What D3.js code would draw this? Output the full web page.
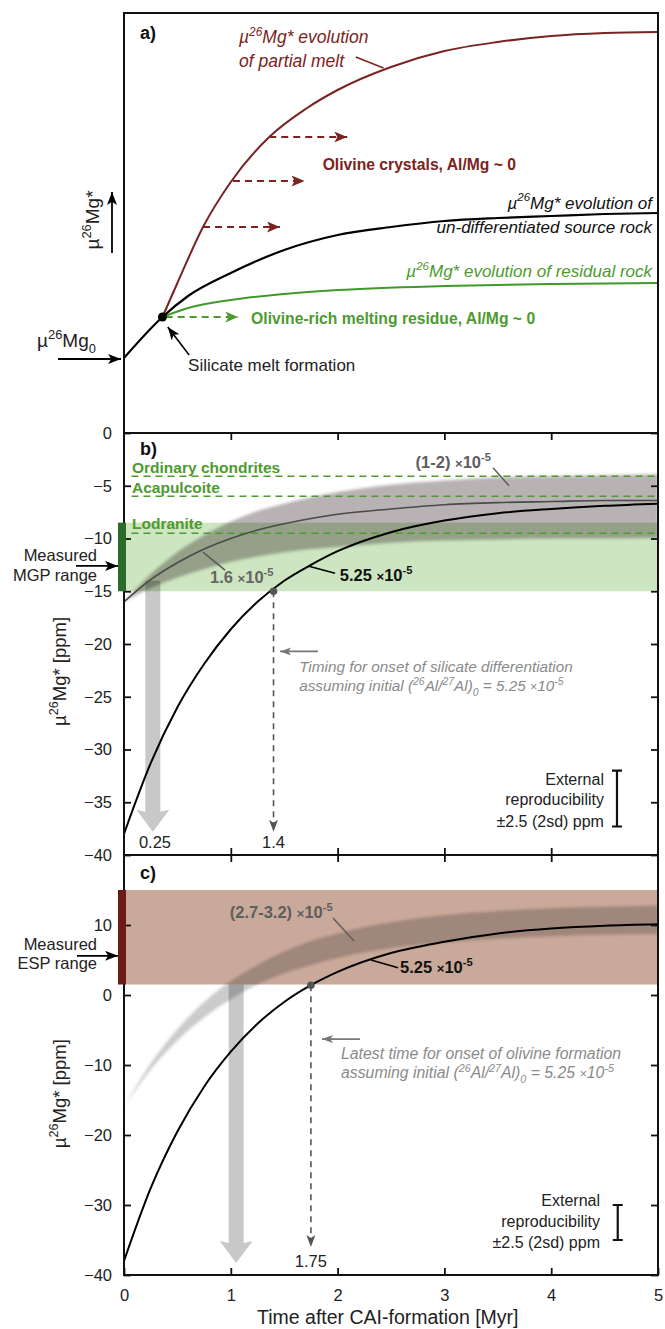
<!DOCTYPE html>
<html>
<head>
<meta charset="utf-8">
<script src="https://d3js.org/d3.v7.min.js"></script>
<style>
  body { margin:0; background:#fff; }
  svg { display:block; font-family: "Liberation Sans", Arial, sans-serif; }
</style>
</head>
<body>
<script>
var width = 665, height = 1329;

// ---- data ----
// panel a: schematic, arbitrary units
var aSourceT = [0, 0.36, 0.6, 1, 1.5, 2, 2.5, 3, 3.5, 4, 4.5, 5];
var aSource  = [7.5, 11.6, 13.7, 16.0, 18.3, 19.8, 20.6, 21.2, 21.5, 21.7, 21.9, 22.0];
var aMeltT   = [0.36, 0.5, 0.74, 1.0, 1.36, 1.7, 2.0, 2.5, 3.0, 3.5, 4.0, 4.5, 5.0];
var aMelt    = [11.6, 15.0, 20.6, 25.1, 29.6, 32.4, 34.3, 36.6, 38.2, 39.1, 39.7, 40.0, 40.1];
var aResT    = [0.36, 0.6, 1.0, 1.5, 2.0, 3.0, 4.0, 5.0];
var aRes     = [11.6, 12.5, 13.3, 13.9, 14.3, 14.7, 14.9, 15.0];
var meltFormation = [0.36, 11.6];
var crystalStart = [0.74, 1.02, 1.36], crystalEnd = [1.46, 1.69, 2.09], crystalLevel = [20.6, 25.2, 29.6];

// panels b and c: mu26Mg* in ppm vs time (Myr)
var tGrid = [0, 0.25, 0.5, 0.75, 1, 1.25, 1.5, 1.75, 2, 2.5, 3, 3.5, 4, 4.5, 5];
var b525  = [-38, -31.3, -26.0, -21.9, -18.6, -16.0, -14.0, -12.5, -11.2, -9.4, -8.3, -7.6, -7.2, -6.9, -6.7];
var b16   = [-16, -13.9, -12.3, -11.0, -10.0, -9.2, -8.6, -8.1, -7.7, -7.2, -6.8, -6.6, -6.5, -6.4, -6.4];
var bHi   = [-16, -13.4, -11.3, -9.7, -8.4, -7.4, -6.7, -6.1, -5.6, -4.9, -4.5, -4.2, -4.1, -4.0, -3.9];
var bLo   = [-16, -14.7, -13.7, -12.9, -12.2, -11.7, -11.3, -11.0, -10.8, -10.4, -10.2, -10.1, -10.0, -10.0, -9.95];
var c525  = [-38, -27.6, -19.5, -13.1, -8.1, -4.1, -1.0, 1.4, 3.3, 6.0, 7.6, 8.8, 9.5, 9.9, 10.1];
var cHi   = [-16, -9.8, -4.9, -1.0, 2.0, 4.3, 6.2, 7.7, 8.8, 10.4, 11.4, 12.0, 12.4, 12.6, 12.8];
var cLo   = [-16, -10.65, -6.5, -3.2, -0.6, 1.5, 3.1, 4.3, 5.3, 6.7, 7.5, 8.05, 8.4, 8.6, 8.7];

var refLevels = [-4.1, -6.0, -9.5];
var refNames  = ["Ordinary chondrites", "Acapulcoite", "Lodranite"];
var refLabelAt = [-3.8, -5.7, -9.1];
var mgpRange = [-15, -8.5], espRange = [1.5, 15];
var onsetB = [1.4, -15], onsetC = [1.75, 1.4];
var arrowB = 0.27, arrowC = 1.05;

var bTicks = d3.range(-40, 1, 5), cTicks = d3.range(-40, 11, 10), xTicks = [0, 1, 2, 3, 4, 5];

// ---- colours ----
var cMelt = "#7a2320", cGreen = "#4c9b2f", cGreenDark = "#2d6b2c", cGreenFill = "#cde5c0",
    cBrown = "#c9a99a", cBrownDark = "#6b1a16", cNote = "#8a8a8a", cBandText = "#5e5e5e";

// ---- scales ----
var x  = d3.scaleLinear().domain([0, 5]).range([124, 658]);
var yA = d3.scaleLinear().domain([0, 42]).range([433, 13]);
var yB = d3.scaleLinear().domain([-40, 0]).range([855, 433]);
var yC = d3.scaleLinear().domain([-40, 20]).range([1275, 855]);

var svg = d3.select("body").append("svg").attr("width", width).attr("height", height);
var defs = svg.append("defs");

defs.append("filter").attr("id", "soft")
  .attr("x", "-5%").attr("y", "-30%").attr("width", "110%").attr("height", "160%")
  .append("feGaussianBlur").attr("stdDeviation", 1.8);

function marker(id, color, l, w) {
  defs.append("marker").attr("id", id)
    .attr("viewBox", "0 0 " + l + " " + w)
    .attr("refX", l).attr("refY", w / 2)
    .attr("markerWidth", l).attr("markerHeight", w)
    .attr("markerUnits", "userSpaceOnUse")
    .attr("orient", "auto")
    .append("path")
    .attr("d", "M0,0L" + l + "," + (w / 2) + "L0," + w + "L" + (l * 0.25) + "," + (w / 2) + "Z")
    .attr("fill", color);
}
marker("headRed", cMelt, 13, 11);
marker("headGreen", cGreen, 13, 11);
marker("headBlack", "#000", 13, 10);
marker("headGrey", "#555", 12, 9);
marker("headNote", "#777", 11, 8);

// rich text: parts = [[text, mode]], mode sup/sub/small
function rich(sel, parts, size) {
  var shift = 0;
  parts.forEach(function(p) {
    var mode = p[1] || "";
    var target = mode === "sup" ? -0.42 * size : mode === "sub" ? 0.3 * size : 0;
    var ts = sel.append("tspan").text(p[0]);
    if (target !== shift) { ts.attr("dy", target - shift); shift = target; }
    if (mode) ts.attr("font-size", (mode === "small" ? 0.8 : 0.68) * size);
  });
}

function label(g, px, py, parts, o) {
  o = o || {};
  var size = o.size || 15;
  var t = g.append("text").attr("x", px).attr("y", py)
    .attr("font-size", size)
    .attr("fill", o.fill || "#222")
    .attr("text-anchor", o.anchor || "start")
    .attr("font-weight", o.bold ? "bold" : null)
    .attr("font-style", o.italic ? "italic" : null);
  if (o.rotate) t.attr("transform", "rotate(-90," + px + "," + py + ")");
  if (typeof parts === "string") parts = [[parts]];
  rich(t, parts, size);
  return t;
}

function arrow(g, x1, y1, x2, y2, color, head, o) {
  o = o || {};
  return g.append("line").attr("x1", x1).attr("y1", y1).attr("x2", x2).attr("y2", y2)
    .attr("stroke", color).attr("stroke-width", o.width || 1.6)
    .attr("stroke-dasharray", o.dash || null)
    .attr("marker-end", head ? "url(#" + head + ")" : null);
}

function seg(g, x1, y1, x2, y2, color) {
  g.append("line").attr("x1", x1).attr("y1", y1).attr("x2", x2).attr("y2", y2)
    .attr("stroke", color).attr("stroke-width", 1.5);
}

function clipFor(id, y) {
  defs.append("clipPath").attr("id", id).append("rect")
    .attr("x", x(0)).attr("y", y.range()[1]).attr("width", x(5) - x(0))
    .attr("height", y.range()[0] - y.range()[1]);
  return svg.append("g").attr("clip-path", "url(#" + id + ")");
}

function bigArrow(g, t, v0, v1, y) {
  var cx = x(t), top = y(v0), tip = y(v1), sw = 7.5, hw = 16.5, hl = 20;
  g.append("path")
    .attr("d", "M" + (cx - sw) + "," + top + "L" + (cx + sw) + "," + top +
      "L" + (cx + sw) + "," + (tip - hl) + "L" + (cx + hw) + "," + (tip - hl - 2) +
      "L" + cx + "," + tip + "L" + (cx - hw) + "," + (tip - hl - 2) +
      "L" + (cx - sw) + "," + (tip - hl) + "Z")
    .attr("fill", "#c8c8c8");
}

function errBar(g, cx, y0, y1) {
  g.append("path").attr("d", "M" + (cx - 5) + "," + y0 + "H" + (cx + 5) + "M" + cx + "," + y0 +
    "V" + y1 + "M" + (cx - 5) + "," + y1 + "H" + (cx + 5))
    .attr("stroke", "#111").attr("stroke-width", 2.2).attr("fill", "none");
}

function xy(ts, vs, y) { return ts.map(function(t, i) { return [x(t), y(vs[i])]; }); }
var line = d3.line().curve(d3.curveMonotoneX);

function frame(y, tickVals, opts) {
  var g = svg.append("g");
  var top = y.range()[1], bot = y.range()[0];
  if (tickVals) {
    g.append("g").attr("transform", "translate(" + x(0) + ",0)")
      .call(d3.axisLeft(y).tickValues(tickVals).tickSize(-7).tickPadding(12).tickFormat(d3.format("")))
      .call(styleAxis);
    g.append("g").attr("transform", "translate(" + x(5) + ",0)")
      .call(d3.axisRight(y).tickValues(tickVals).tickSize(-7).tickFormat(""))
      .call(styleAxis);
  }
  if (opts.xTop) g.append("g").attr("transform", "translate(0," + top + ")")
      .call(d3.axisTop(x).tickValues([1, 2, 3, 4]).tickSize(-7).tickFormat("")).call(styleAxis);
  if (opts.xBottom) g.append("g").attr("transform", "translate(0," + bot + ")")
      .call(d3.axisBottom(x).tickValues(opts.xLabels ? xTicks : [1, 2, 3, 4]).tickSize(-7).tickPadding(14)
        .tickFormat(opts.xLabels ? d3.format("") : "")).call(styleAxis);
  g.append("rect").attr("x", x(0)).attr("y", top).attr("width", x(5) - x(0)).attr("height", bot - top)
    .attr("fill", "none").attr("stroke", "#111").attr("stroke-width", 2);
  return g;
}
function styleAxis(a) {
  a.select(".domain").remove();
  a.selectAll(".tick line").attr("stroke", "#111").attr("stroke-width", 1.8);
  a.selectAll(".tick text").attr("font-size", 16.5).attr("fill", "#222").attr("font-family", "Liberation Sans, Arial, sans-serif");
}

// ================= panel a =================
var pa = clipFor("clipA", yA);
pa.append("path").attr("d", line(xy(aResT, aRes, yA))).attr("fill", "none").attr("stroke", "#3f9a2b").attr("stroke-width", 2);
pa.append("path").attr("d", line(xy(aMeltT, aMelt, yA))).attr("fill", "none").attr("stroke", cMelt).attr("stroke-width", 2);
pa.append("path").attr("d", line(xy(aSourceT, aSource, yA))).attr("fill", "none").attr("stroke", "#000").attr("stroke-width", 2.2);
crystalLevel.forEach(function(v, i) {
  arrow(pa, x(crystalStart[i]), yA(v), x(crystalEnd[i]), yA(v), cMelt, "headRed", {dash: "7,5", width: 2});
});
arrow(pa, x(meltFormation[0] + 0.03), yA(meltFormation[1]), x(1.07), yA(meltFormation[1]), cGreen, "headGreen", {dash: "7,5", width: 2});
pa.append("circle").attr("cx", x(meltFormation[0])).attr("cy", yA(meltFormation[1])).attr("r", 4.5).attr("fill", "#000");
frame(yA, null, {});

var ta = svg.append("g");
label(ta, x(0.15), yA(39.4), "a)", {bold: true, size: 18, fill: "#111"});
label(ta, x(1.077), yA(39), [["\u00b5"], ["26", "sup"], ["Mg* evolution"]], {italic: true, size: 17.5, fill: cMelt});
label(ta, x(1.077), yA(36.6), "of partial melt", {italic: true, size: 17.5, fill: cMelt});
seg(ta, x(2.17), yA(37.6), x(2.43), yA(36.5), cMelt);
label(ta, x(1.86), yA(26.3), "Olivine crystals, Al/Mg ~ 0", {bold: true, size: 15.7, fill: cMelt});
label(ta, x(4.944), yA(22.45), [["\u00b5"], ["26", "sup"], ["Mg* evolution of"]], {italic: true, size: 17, fill: "#111", anchor: "end"});
label(ta, x(4.944), yA(20), "un-differentiated source rock", {italic: true, size: 17, fill: "#111", anchor: "end"});
label(ta, x(4.944), yA(15.6), [["\u00b5"], ["26", "sup"], ["Mg* evolution of residual rock"]], {italic: true, size: 17, fill: cGreen, anchor: "end"});
label(ta, x(1.19), yA(10.9), "Olivine-rich melting residue, Al/Mg ~ 0", {bold: true, size: 15.7, fill: cGreen});
label(ta, x(0.6), yA(6.2), "Silicate melt formation", {size: 17, fill: "#222"});
arrow(ta, x(0.61), yA(7.8), x(0.41), yA(10.6), "#000", "headBlack", {width: 1.6});
label(ta, 37, yA(8.6), [["\u00b5"], ["26", "sup"], ["Mg"], ["0", "sub"]], {size: 19, fill: "#222"});
arrow(ta, 58, yA(7.4), 121, yA(7.4), "#000", "headBlack", {width: 1.8});
label(ta, 99, yA(21.3), [["\u00b5"], ["26", "sup"], ["Mg*"]], {size: 19, fill: "#222", rotate: true, anchor: "middle"});
arrow(ta, 112, yA(18), 112, yA(24.1), "#000", "headBlack", {width: 1.8});

// ================= panel b =================
var pb = clipFor("clipB", yB);
bigArrow(pb, arrowB, -14, -37.8, yB);
pb.append("path").datum(tGrid)
  .attr("d", d3.area().curve(d3.curveMonotoneX)
    .x(function(t) { return x(t); })
    .y0(function(t, i) { return yB(bLo[i]); })
    .y1(function(t, i) { return yB(bHi[i]); }))
  .attr("fill", "#b8b2b5").attr("filter", "url(#soft)").style("mix-blend-mode", "multiply");
pb.append("rect").attr("x", x(0)).attr("y", yB(mgpRange[1])).attr("width", x(5) - x(0))
  .attr("height", yB(mgpRange[0]) - yB(mgpRange[1])).attr("fill", cGreenFill).style("mix-blend-mode", "multiply");
refLevels.forEach(function(v) {
  pb.append("line").attr("x1", x(0.07)).attr("x2", x(5)).attr("y1", yB(v)).attr("y2", yB(v))
    .attr("stroke", cGreen).attr("stroke-width", 1.6).attr("stroke-dasharray", "7,5");
});
pb.append("path").attr("d", line(xy(tGrid, b16, yB))).attr("fill", "none").attr("stroke", "#4a4a4a").attr("stroke-width", 1.6);
pb.append("path").attr("d", line(xy(tGrid, b525, yB))).attr("fill", "none").attr("stroke", "#000").attr("stroke-width", 2);
arrow(pb, x(onsetB[0]), yB(onsetB[1]), x(onsetB[0]), yB(-37.8), "#555", "headGrey", {dash: "6,5", width: 1.6});
pb.append("circle").attr("cx", x(onsetB[0])).attr("cy", yB(onsetB[1])).attr("r", 3.8).attr("fill", "#555");
frame(yB, bTicks, {xTop: true, xBottom: true});
svg.append("rect").attr("x", 118).attr("y", yB(mgpRange[1])).attr("width", 8)
  .attr("height", yB(mgpRange[0]) - yB(mgpRange[1])).attr("fill", cGreenDark);

var tb = svg.append("g");
label(tb, x(0.15), yB(-2.1), "b)", {bold: true, size: 18, fill: "#111"});
refNames.forEach(function(n, i) {
  label(tb, x(0.075), yB(refLabelAt[i]), n, {bold: true, size: 15.5, fill: cGreen});
});
label(tb, x(2.73), yB(-3.3), [["(1-2) "], ["\u00d7", "small"], ["10"], ["-5", "sup"]], {bold: true, size: 16.5, fill: cBandText});
seg(tb, x(3.455), yB(-3.3), x(3.605), yB(-5.0), cBandText);
label(tb, x(0.805), yB(-14.2), [["1.6 "], ["\u00d7", "small"], ["10"], ["-5", "sup"]], {bold: true, size: 16.5, fill: "#666"});
seg(tb, x(0.74), yB(-11.3), x(0.946), yB(-13.0), "#555");
label(tb, x(2.02), yB(-14.0), [["5.25 "], ["\u00d7", "small"], ["10"], ["-5", "sup"]], {bold: true, size: 16.5, fill: "#111"});
seg(tb, x(1.723), yB(-12.6), x(1.976), yB(-13.3), "#000");
label(tb, 97, yB(-12.15), "Measured", {size: 16.5, anchor: "end"});
label(tb, 97, yB(-14.05), "MGP range", {size: 16.5, anchor: "end"});
arrow(tb, 76, yB(-12.6), 118, yB(-12.6), "#000", "headBlack", {width: 1.8});
arrow(tb, x(1.816), yB(-20.7), x(1.461), yB(-20.7), "#777", "headNote", {width: 1.8});
label(tb, x(1.64), yB(-22.7), "Timing for onset of silicate differentiation", {italic: true, size: 15.3, fill: cNote});
label(tb, x(1.64), yB(-24.5), [["assuming initial ("], ["26", "sup"], ["Al/"], ["27", "sup"], ["Al)"], ["0", "sub"], [" = 5.25 "], ["\u00d7", "small"], ["10"], ["-5", "sup"]], {italic: true, size: 15.3, fill: cNote});
label(tb, x(0.29), yB(-39.3), "0.25", {size: 16.5, anchor: "middle"});
label(tb, x(1.4), yB(-39.3), "1.4", {size: 16.5, anchor: "middle"});
label(tb, x(4.494), yB(-33.4), "External", {size: 16, anchor: "end"});
label(tb, x(4.494), yB(-35.3), "reproducibility", {size: 16, anchor: "end"});
label(tb, x(4.494), yB(-37.3), "\u00b12.5 (2sd) ppm", {size: 16, anchor: "end"});
errBar(tb, x(4.616), yB(-32), yB(-37.3));
label(tb, 66, yB(-22.6), [["\u00b5"], ["26", "sup"], ["Mg* [ppm]"]], {size: 18.5, rotate: true, anchor: "middle"});

// ================= panel c =================
var pc = clipFor("clipC", yC);
bigArrow(pc, arrowC, espRange[0], -38.3, yC);
pc.append("path").datum(tGrid)
  .attr("d", d3.area().curve(d3.curveMonotoneX)
    .x(function(t) { return x(t); })
    .y0(function(t, i) { return yC(cLo[i]); })
    .y1(function(t, i) { return yC(cHi[i]); }))
  .attr("fill", "#cbcbcb").attr("filter", "url(#soft)").style("mix-blend-mode", "multiply");
pc.append("rect").attr("x", x(0)).attr("y", yC(espRange[1])).attr("width", x(5) - x(0))
  .attr("height", yC(espRange[0]) - yC(espRange[1])).attr("fill", cBrown).style("mix-blend-mode", "multiply");
pc.append("path").attr("d", line(xy(tGrid, c525, yC))).attr("fill", "none").attr("stroke", "#000").attr("stroke-width", 2);
arrow(pc, x(onsetC[0]), yC(onsetC[1]), x(onsetC[0]), yC(-36), "#555", "headGrey", {dash: "6,5", width: 1.6});
pc.append("circle").attr("cx", x(onsetC[0])).attr("cy", yC(onsetC[1])).attr("r", 3.8).attr("fill", "#555");
frame(yC, cTicks, {xTop: true, xBottom: true, xLabels: true});
svg.append("rect").attr("x", 118).attr("y", yC(espRange[1])).attr("width", 8)
  .attr("height", yC(espRange[0]) - yC(espRange[1])).attr("fill", cBrownDark);

var tc = svg.append("g");
label(tc, x(0.15), yC(16.6), "c)", {bold: true, size: 18, fill: "#111"});
label(tc, x(0.99), yC(11.0), [["(2.7-3.2) "], ["\u00d7", "small"], ["10"], ["-5", "sup"]], {bold: true, size: 16.5, fill: cBandText});
seg(tc, x(1.957), yC(11.0), x(2.154), yC(7.7), cBandText);
label(tc, x(2.584), yC(3.1), [["5.25 "], ["\u00d7", "small"], ["10"], ["-5", "sup"]], {bold: true, size: 16.5, fill: "#111"});
seg(tc, x(2.313), yC(5.0), x(2.566), yC(3.9), "#000");
label(tc, 97, yC(6.4), "Measured", {size: 16.5, anchor: "end"});
label(tc, 97, yC(3.7), "ESP range", {size: 16.5, anchor: "end"});
arrow(tc, 77, yC(5.6), 118, yC(5.6), "#000", "headBlack", {width: 1.8});
arrow(tc, x(2.21), yC(-6.3), x(1.854), yC(-6.3), "#777", "headNote", {width: 1.8});
label(tc, x(2.032), yC(-9.1), "Latest time for onset of olivine formation", {italic: true, size: 15.8, fill: cNote});
label(tc, x(2.032), yC(-11.9), [["assuming initial ("], ["26", "sup"], ["Al/"], ["27", "sup"], ["Al)"], ["0", "sub"], [" = 5.25 "], ["\u00d7", "small"], ["10"], ["-5", "sup"]], {italic: true, size: 15.8, fill: cNote});
label(tc, x(1.75), yC(-38.9), "1.75", {size: 16.5, anchor: "middle"});
label(tc, x(4.457), yC(-30.1), "External", {size: 16, anchor: "end"});
label(tc, x(4.457), yC(-33.1), "reproducibility", {size: 16, anchor: "end"});
label(tc, x(4.457), yC(-36.1), "\u00b12.5 (2sd) ppm", {size: 16, anchor: "end"});
errBar(tc, x(4.623), yC(-30), yC(-35));
label(tc, 66, yC(-14.1), [["\u00b5"], ["26", "sup"], ["Mg* [ppm]"]], {size: 18.5, rotate: true, anchor: "middle"});
label(tc, x(2.47), 1324, "Time after CAI-formation [Myr]", {size: 19.5, anchor: "middle"});
</script>
</body>
</html>
